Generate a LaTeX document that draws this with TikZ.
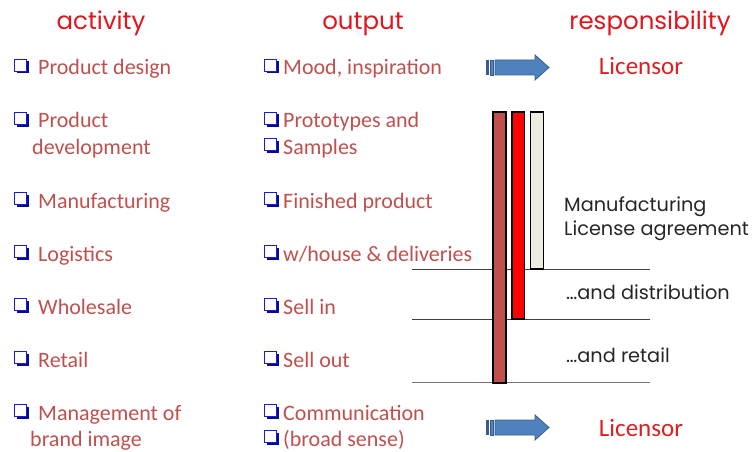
\documentclass[tikz,border=0pt]{standalone}
\usepackage{fontspec}
\setmainfont{Carlito}
\newfontfamily\gothic{Poppins}
\definecolor{txt}{HTML}{C0504D}
\definecolor{headred}{HTML}{E2141C}
\definecolor{licred}{HTML}{E01E1E}
\definecolor{notegray}{HTML}{262626}
\definecolor{chkblue}{HTML}{1A1AE6}
\definecolor{chkdark}{HTML}{0A0A8C}
\definecolor{arrfill}{HTML}{4F81BD}
\definecolor{arrline}{HTML}{385D8A}
\definecolor{barA}{HTML}{C0504D}
\definecolor{barB}{HTML}{FF0000}
\definecolor{barC}{HTML}{EEECE1}
\begin{document}
\begin{tikzpicture}[x=1pt,y=-1pt,
  item/.style={anchor=base west, inner sep=0, text=txt, font=\fontsize{22}{26}\selectfont},
  head/.style={anchor=base, inner sep=0, text=headred, font=\gothic\fontsize{24.5}{28}\selectfont},
  note/.style={anchor=base west, inner sep=0, text=notegray, font=\gothic\fontsize{19.3}{22}\selectfont},
  lic/.style={anchor=base, inner sep=0, text=licred, font=\fontsize{25}{29}\selectfont},
  barbox/.style={draw=black, line width=1.2pt},
  sepline/.style={draw=black!75, line width=0.9pt},
  arrowbody/.style={fill=arrfill, draw=arrline, line width=0.8pt},
  chk/.pic={
    \fill[chkdark] (-4.5,-4.5) rectangle (7.5,7.5);
    \filldraw[draw=chkblue, fill=white, line width=1.8pt] (-6.5,-6.5) rectangle (5.5,5.5);
  },
  stripedarrow/.pic={
    \fill[arrline] (-31,-7.5) rectangle (-28.5,7.5);
    \filldraw[arrowbody] (-26.5,-7.5) rectangle (-23.5,7.5);
    \filldraw[arrowbody] (-22,-7.5) -- (18,-7.5) -- (18,-12.5) -- (32,0) -- (18,12.5) -- (18,7.5) -- (-22,7.5) -- cycle;
  }
]
\useasboundingbox (0,0) rectangle (753,452);

% headers
\node[head] (hact) at (101,30) {activity};
\node[head] (hout) at (363,30) {output};
\node[head] (hres) at (650,30) {responsibility};

% activity column
\pic at (21,66) {chk};
\node[item] (a1) at (38,75) {Product design};
\pic at (21,119) {chk};
\node[item] (a2) at (38,128) {Product};
\node[item] (a2b) at (32,154) {development};
\pic at (21,199) {chk};
\node[item] (a3) at (38,208) {Manufacturing};
\pic at (21,252) {chk};
\node[item] (a4) at (38,261) {Logistics};
\pic at (21,305) {chk};
\node[item] (a5) at (38,314) {Wholesale};
\pic at (21,358) {chk};
\node[item] (a6) at (38,367) {Retail};
\pic at (21,411) {chk};
\node[item] (a7) at (38,420) {Management of};
\node[item] (a7b) at (30,446) {brand image};

% output column
\pic at (271,66) {chk};
\node[item] (o1) at (283,75) {Mood, inspiration};
\pic at (271,119) {chk};
\node[item] (o2) at (283,128) {Prototypes and};
\pic at (271,145) {chk};
\node[item] (o2b) at (283,154) {Samples};
\pic at (271,199) {chk};
\node[item] (o3) at (283,208) {Finished product};
\pic at (271,252) {chk};
\node[item] (o4) at (283,261) {w/house \& deliveries};
\pic at (271,305) {chk};
\node[item] (o5) at (283,314) {Sell in};
\pic at (271,358) {chk};
\node[item] (o6) at (283,367) {Sell out};
\pic at (271,411) {chk};
\node[item] (o7) at (283,420) {Communication};
\pic at (271,437) {chk};
\node[item] (o7b) at (283,446) {(broad sense)};

% arrows and licensor
\pic at (517,67.5) {stripedarrow};
\node[lic] (l1) at (641,75) {Licensor};
\pic at (517,427.5) {stripedarrow};
\node[lic] (l2) at (641,436) {Licensor};

% separator lines
\draw[sepline] (412,269) -- (650,269);
\draw[sepline] (412,319) -- (650,319);
\draw[sepline, draw=black!55] (412,382.5) -- (650,382.5);

% bars
\filldraw[barbox, fill=barA] (493,112) rectangle (506,383);
\filldraw[barbox, fill=barB] (512,112) rectangle (524.5,319);
\filldraw[barbox, fill=barC] (530.5,112) rectangle (543.5,269);

% notes
\node[note] (n1) at (564,211) {Manufacturing};
\node[note] (n2) at (564,235) {License agreement};
\node[note] (n3) at (566,299) {\dots and distribution};
\node[note] (n4) at (566,362) {\dots and retail};
\end{tikzpicture}
\end{document}
